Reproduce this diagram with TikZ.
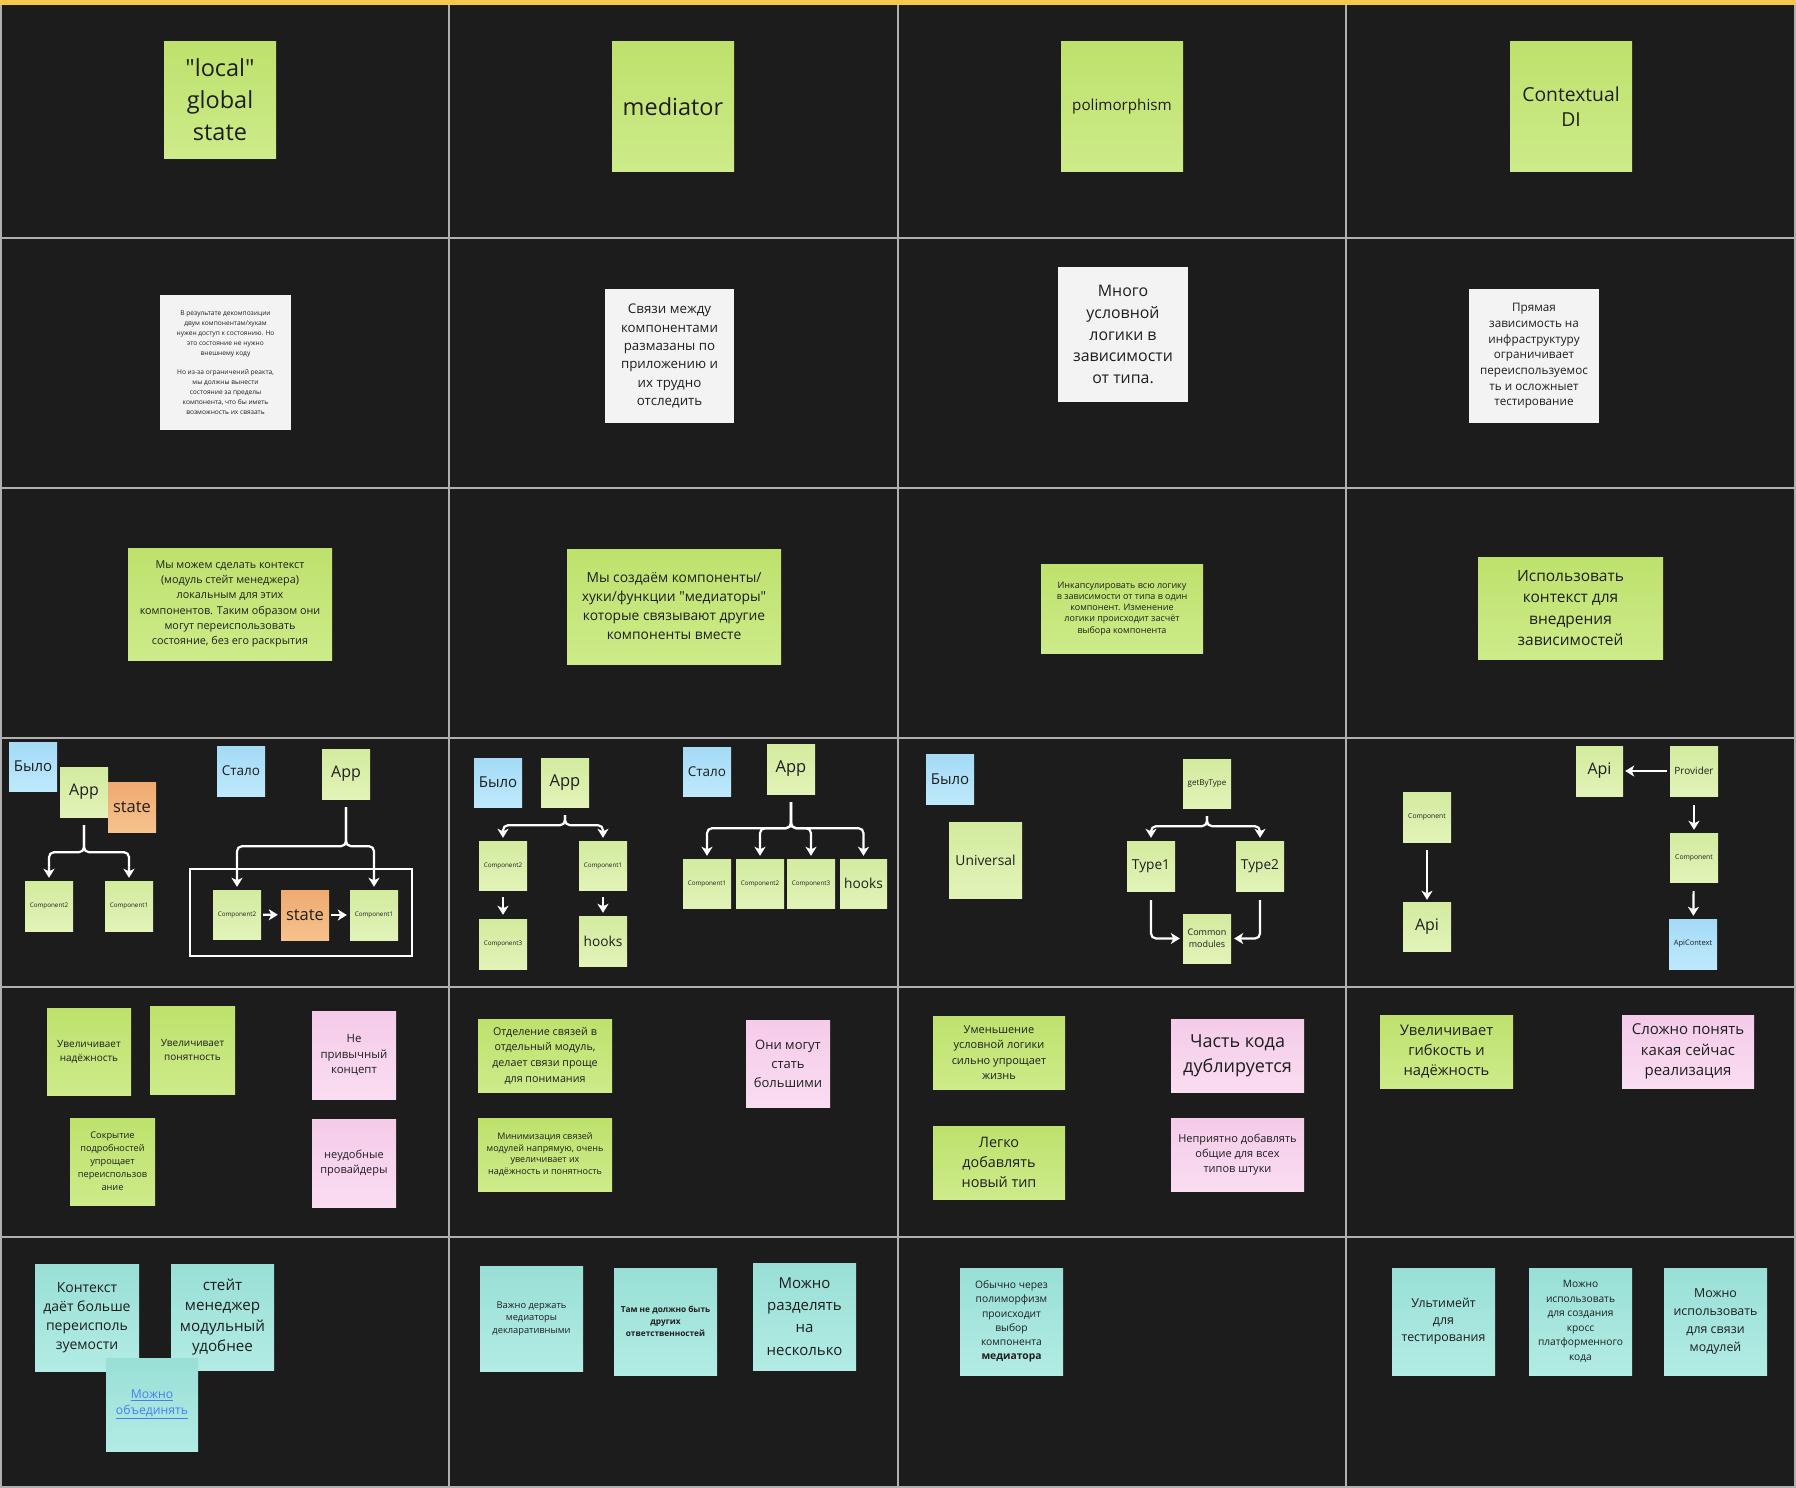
\documentclass[tikz,border=0pt]{standalone}
\usepackage{fontspec}
\setmainfont{Open Sans}
\usetikzlibrary{arrows.meta}

\definecolor{boardbg}{HTML}{1C1C1C}
\definecolor{gridline}{HTML}{B0B0B0}
\definecolor{topbar}{HTML}{F6C94B}
\definecolor{ink}{HTML}{1E1E1E}
\definecolor{linkblue}{HTML}{4A7CF0}
\definecolor{gTop}{HTML}{BEE16C}
\definecolor{gBot}{HTML}{CDEB8A}
\definecolor{lgTop}{HTML}{D3EB9F}
\definecolor{lgBot}{HTML}{E2F3B8}
\definecolor{oTop}{HTML}{EFAA70}
\definecolor{oBot}{HTML}{F6C28D}
\definecolor{bTop}{HTML}{A4DAF6}
\definecolor{bBot}{HTML}{BEE9FC}
\definecolor{pTop}{HTML}{F4CBE9}
\definecolor{pBot}{HTML}{FADDF1}
\definecolor{tTop}{HTML}{99DFD6}
\definecolor{tBot}{HTML}{B2ECE4}
\definecolor{wFill}{HTML}{F3F3F3}

\newcommand\fsz[2]{\fontsize{#1}{#2}\selectfont}
% \stick{style}{name}{x1}{y1}{x2}{y2}{font}{text}: a sticky note given by its corners
\newcommand\stick[8]{%
  \node[#1, font=#7, minimum width={(#5-#3)*1pt}, minimum height={(#6-#4)*1pt}]
    (#2) at ({(#3+#5)/2},{(#4+#6)/2}) {#8};}

\begin{document}
\begin{tikzpicture}[x=1pt, y=-1pt,
  note/.style={rectangle, inner sep=0pt, align=center, text=ink, draw=none},
  sg/.style={note, top color=gTop, bottom color=gBot},
  sl/.style={note, top color=lgTop, bottom color=lgBot},
  so/.style={note, top color=oTop, bottom color=oBot},
  sb/.style={note, top color=bTop, bottom color=bBot},
  sp/.style={note, top color=pTop, bottom color=pBot},
  sq/.style={note, top color=tTop, bottom color=tBot},
  sw/.style={note, fill=wFill},
  frm/.style={rectangle, inner sep=0pt, draw=white, line width=1.8pt},
  conn/.style={draw=white, line width=2.2pt, rounded corners=5pt,
    -{Stealth[length=9pt,width=11pt,inset=2.5pt]}, shorten <=8pt, shorten >=3pt},
]
\useasboundingbox (0,0) rectangle (1796,1488);
\fill[boardbg] (0,0) rectangle (1796,1488);

% board grid
\begin{scope}[draw=gridline, line width=1.6pt]
  \draw (1,1) rectangle (1795,1487);
  \foreach \gx in {449,898,1346} \draw (\gx,0) -- (\gx,1488);
  \foreach \gy in {238,488,738,987,1237} \draw (0,\gy) -- (1796,\gy);
\end{scope}
\fill[topbar] (0,0) rectangle (1796,5);

% ---------- row 1: topics ----------
\stick{sg}{t1}{164}{42}{276}{158}{\fsz{23.5}{32}}{\textquotedbl local\textquotedbl\\global\\state}
\stick{sg}{t2}{612}{42}{734}{171}{\fsz{23.5}{32}}{mediator}
\stick{sg}{t3}{1061}{42}{1183}{171}{\fsz{15.2}{20}}{polimorphism}
\stick{sg}{t4}{1510}{42}{1632}{171}{\fsz{19.3}{25}}{Contextual\\DI}

% ---------- row 2: problems ----------
\stick{sw}{w1}{160}{295}{291}{430}{\fsz{6.6}{10}}{В результате декомпозиции\\двум компонентам/хукам\\нужен доступ к состоянию. Но\\это состояние не нужно\\внешнему коду\\[9pt]Но из-за ограничений реакта,\\мы должны вынести\\состояние за пределы\\компонента, что бы иметь\\возможность их связать}
\stick{sw}{w2}{605}{289}{734}{423}{\fsz{13.3}{18.3}}{Связи между\\компонентами\\размазаны по\\приложению и\\их трудно\\отследить}
\stick{sw}{w3}{1058}{267}{1188}{402}{\fsz{15.9}{21.8}}{Много\\условной\\логики в\\зависимости\\от типа.}
\stick{sw}{w4}{1469}{289}{1599}{423}{\fsz{11.7}{15.7}}{Прямая\\зависимость на\\инфраструктуру\\ограничивает\\переиспользуемос\\ть и осложныет\\тестирование}

% ---------- row 3: solutions ----------
\stick{sg}{g1}{128}{548}{332}{660}{\fsz{10.8}{15.3}}{Мы можем сделать контекст\\(модуль стейт менеджера)\\локальным для этих\\компонентов. Таким образом они\\могут переиспользовать\\состояние, без его раскрытия}
\stick{sg}{g2}{567}{549}{781}{664}{\fsz{13.8}{19}}{Мы создаём компоненты/\\хуки/функции \textquotedbl медиаторы\textquotedbl\\которые связывают другие\\компоненты вместе}
\stick{sg}{g3}{1041}{564}{1203}{653}{\fsz{9}{11.3}}{Инкапсулировать всю логику\\в зависимости от типа в один\\компонент. Изменение\\логики происходит засчёт\\выбора компонента}
\stick{sg}{g4}{1478}{557}{1663}{659}{\fsz{15.5}{21.4}}{Использовать\\контекст для\\внедрения\\зависимостей}

% ---------- row 4: before / after ----------
% local global state
\stick{sb}{b1}{9}{742}{57}{791}{\fsz{15}{18}}{Было}
\stick{sl}{app1}{60}{767}{108}{817}{\fsz{16}{20}}{App}
\stick{so}{st1}{108}{782}{156}{832}{\fsz{16.5}{20}}{state}
\stick{sl}{c12}{25}{881}{73}{931}{\fsz{6.3}{8}}{Component2}
\stick{sl}{c11}{105}{881}{153}{931}{\fsz{6.3}{8}}{Component1}
\draw[conn] (app1.south) -- ++(0,35) -| (c12.north);
\draw[conn] (app1.south) -- ++(0,35) -| (c11.north);

\stick{sb}{b2}{217}{746}{265}{796}{\fsz{13.5}{18}}{Стало}
\stick{sl}{app2}{322}{749}{370}{799}{\fsz{16}{20}}{App}
\stick{frm}{box2}{190}{869}{412}{956}{}{}
\stick{sl}{c22}{213}{890}{261}{939}{\fsz{6.3}{8}}{Component2}
\stick{so}{st2}{281}{890}{329}{940}{\fsz{16.5}{20}}{state}
\stick{sl}{c21}{350}{890}{398}{940}{\fsz{6.3}{8}}{Component1}
\draw[conn] (app2.south) -- ++(0,47) -| (c22.north);
\draw[conn] (app2.south) -- ++(0,47) -| (c21.north);
\draw[conn, shorten <=2pt, shorten >=3pt] (c22) -- (st2);
\draw[conn, shorten <=2pt, shorten >=3pt] (st2) -- (c21);

% mediator
\stick{sb}{b3}{474}{758}{522}{807}{\fsz{15}{18}}{Было}
\stick{sl}{app3}{541}{758}{589}{807}{\fsz{16.5}{20}}{App}
\stick{sl}{c32}{479}{841}{527}{890}{\fsz{6.3}{8}}{Component2}
\stick{sl}{c31}{579}{841}{627}{890}{\fsz{6.3}{8}}{Component1}
\stick{sl}{c33}{479}{919}{527}{969}{\fsz{6.3}{8}}{Component3}
\stick{sl}{h3}{579}{916}{627}{966}{\fsz{13.7}{18}}{hooks}
\draw[conn] (app3.south) -- ++(0,18) -| (c32.north);
\draw[conn] (app3.south) -- ++(0,18) -| (c31.north);
\draw[conn, shorten <=7pt, shorten >=4pt] (c32) -- (c33);
\draw[conn, shorten <=7pt, shorten >=3pt] (c31) -- (h3);

\stick{sb}{b4}{683}{747}{731}{796}{\fsz{13.5}{18}}{Стало}
\stick{sl}{app4}{767}{744}{815}{794}{\fsz{16.5}{20}}{App}
\stick{sl}{c41}{683}{859}{731}{908}{\fsz{6.3}{8}}{Component1}
\stick{sl}{c42}{736}{859}{784}{908}{\fsz{6.3}{8}}{Component2}
\stick{sl}{c43}{787}{859}{835}{908}{\fsz{6.3}{8}}{Component3}
\stick{sl}{h4}{840}{859}{887}{908}{\fsz{13.7}{18}}{hooks}
\foreach \child in {c41,c42,c43,h4}
  \draw[conn] (app4.south) -- ++(0,34) -| (\child.north);

% polimorphism
\stick{sb}{b5}{926}{754}{974}{804}{\fsz{15}{18}}{Было}
\stick{sl}{uni}{949}{822}{1022}{898}{\fsz{13.8}{18}}{Universal}
\stick{sl}{gbt}{1183}{759}{1231}{808}{\fsz{8}{10}}{getByType}
\stick{sl}{ty1}{1127}{841}{1175}{891}{\fsz{13.7}{18}}{Type1}
\stick{sl}{ty2}{1236}{841}{1284}{891}{\fsz{13.7}{18}}{Type2}
\stick{sl}{cm}{1183}{914}{1231}{963}{\fsz{9}{12.5}}{Common\\modules}
\draw[conn] (gbt.south) -- ++(0,18) -| (ty1.north);
\draw[conn] (gbt.south) -- ++(0,18) -| (ty2.north);
\draw[conn, shorten <=9pt] (ty1.south) |- (cm.west);
\draw[conn, shorten <=9pt] (ty2.south) |- (cm.east);

% contextual DI
\stick{sl}{cp1}{1403}{792}{1451}{842}{\fsz{6.8}{8}}{Component}
\stick{sl}{api1}{1403}{902}{1451}{951}{\fsz{16}{20}}{Api}
\draw[conn, shorten >=2pt] (cp1) -- (api1);
\stick{sl}{api2}{1576}{746}{1623}{796}{\fsz{16}{20}}{Api}
\stick{sl}{prov}{1670}{746}{1718}{796}{\fsz{10}{12}}{Provider}
\stick{sl}{cp2}{1670}{833}{1718}{882}{\fsz{6.8}{8}}{Component}
\stick{sb}{actx}{1669}{919}{1717}{969}{\fsz{7.5}{9}}{ApiContext}
\draw[conn, shorten <=3pt, shorten >=2pt] (prov) -- (api2);
\draw[conn, shorten <=9pt] (prov) -- (cp2);
\draw[conn, shorten <=9pt] (cp2) -- (actx);

% ---------- row 5: pros and cons ----------
\stick{sg}{p1}{47}{1008}{131}{1095}{\fsz{10}{14.3}}{Увеличивает\\надёжность}
\stick{sg}{p2}{150}{1006}{235}{1094}{\fsz{10}{14.3}}{Увеличивает\\понятность}
\stick{sp}{n1}{312}{1011}{396}{1099}{\fsz{11.4}{15.7}}{Не\\привычный\\концепт}
\stick{sg}{p3}{70}{1118}{155}{1205}{\fsz{9.2}{13}}{Сокрытие\\подробностей\\упрощает\\переиспользов\\ание}
\stick{sp}{n2}{312}{1119}{396}{1207}{\fsz{11}{15.7}}{неудобные\\провайдеры}

\stick{sg}{p4}{478}{1019}{612}{1092}{\fsz{10.7}{15.7}}{Отделение связей в\\отдельный модуль,\\делает связи проще\\для понимания}
\stick{sg}{p5}{478}{1118}{612}{1191}{\fsz{9}{11.7}}{Минимизация связей\\модулей напрямую, очень\\увеличивает их\\надёжность и понятность}
\stick{sp}{n3}{746}{1020}{830}{1107}{\fsz{13}{19}}{Они могут\\стать\\большими}

\stick{sg}{p6}{933}{1016}{1065}{1089}{\fsz{11}{15.3}}{Уменьшение\\условной логики\\сильно упрощает\\жизнь}
\stick{sp}{n4}{1171}{1019}{1304}{1092}{\fsz{18}{25}}{Часть кода\\дублируется}
\stick{sg}{p7}{933}{1126}{1065}{1199}{\fsz{14.4}{20.3}}{Легко\\добавлять\\новый тип}
\stick{sp}{n5}{1171}{1118}{1304}{1191}{\fsz{11}{15.3}}{Неприятно добавлять\\общие для всех\\типов штуки}

\stick{sg}{p8}{1380}{1015}{1513}{1088}{\fsz{14.7}{20.3}}{Увеличивает\\гибкость и\\надёжность}
\stick{sp}{n6}{1622}{1015}{1754}{1088}{\fsz{15}{20.3}}{Сложно понять\\какая сейчас\\реализация}

% ---------- row 6: notes ----------
\stick{sq}{q1}{35}{1264}{139}{1371}{\fsz{14}{19}}{Контекст\\даёт больше\\переисполь\\зуемости}
\stick{sq}{q2}{171}{1264}{274}{1370}{\fsz{15.2}{20.6}}{стейт\\менеджер\\модульный\\удобнее}
\stick{sq, text=linkblue}{q3}{106}{1358}{198}{1451}{\fsz{12.2}{16.5}}{\underline{Можно}\\\underline{объединять}}
\stick{sq}{q4}{480}{1266}{583}{1371}{\fsz{9.3}{12.6}}{Важно держать\\медиаторы\\декларативными}
\stick{sq}{q5}{614}{1268}{717}{1375}{\fsz{8.3}{12}\bfseries}{Там не должно быть\\других\\ответственностей}
\stick{sq}{q6}{753}{1263}{856}{1370}{\fsz{15}{22.3}}{Можно\\разделять\\на\\несколько}
\stick{sq}{q7}{960}{1268}{1063}{1375}{\fsz{10.3}{14.2}}{Обычно через\\полиморфизм\\происходит\\выбор\\компонента\\\textbf{медиатора}}
\stick{sq}{q8}{1392}{1268}{1495}{1375}{\fsz{12.4}{17}}{Ультимейт\\для\\тестирования}
\stick{sq}{q9}{1529}{1268}{1632}{1375}{\fsz{10.2}{14.5}}{Можно\\использовать\\для создания\\кросс\\платформенного\\кода}
\stick{sq}{q10}{1664}{1268}{1767}{1375}{\fsz{12.4}{17.7}}{Можно\\использовать\\для связи\\модулей}
\end{tikzpicture}
\end{document}
